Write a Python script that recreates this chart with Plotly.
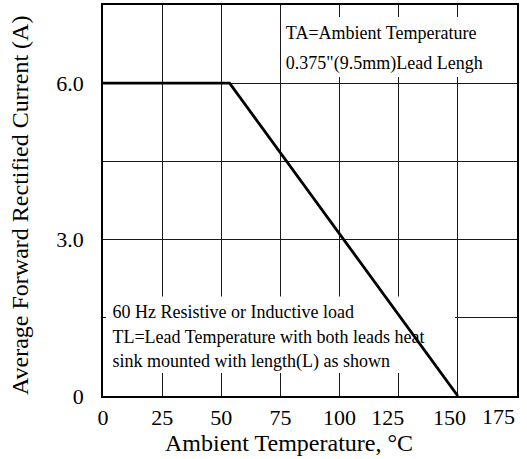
import plotly.graph_objects as go

# Data
temp = [0, 53.5, 150]
current = [6.0, 6.0, 0.0]
x_ticks = [0, 25, 50, 75, 100, 125, 150, 175]
x_tick_labels = ["0", "25", "50", "75", "100", "125", "150", "175"]
y_ticks = [0, 1.5, 3.0, 4.5, 6.0, 7.5]
y_tick_labels = ["0", "", "3.0", "", "6.0", ""]

note_top = ["TA=Ambient Temperature", "0.375\"(9.5mm)Lead Lengh"]
note_top_y = [6.94, 6.35]
note_bot = ["60 Hz Resistive or Inductive load",
            "TL=Lead Temperature with both leads heat",
            "sink mounted with length(L) as shown"]
note_bot_y = [1.59, 1.11, 0.65]

FONT = "Liberation Serif, Times New Roman, serif"

# trailing no-break spaces nudge the crowded right-hand labels leftwards, as in the original;
# the last label is right-aligned to the frame with an annotation instead
pad = [0, 0, 0, 0, 0, 4, 3]
x_text = [lbl + "\u00a0" * p for lbl, p in zip(x_tick_labels[:-1], pad)] + [""]

fig = go.Figure()

# white boxes behind notes (between gridlines and traces)
fig.add_shape(type="rect", x0=76.5, x1=172, y0=6.12, y1=7.27, xref="x", yref="y",
              fillcolor="white", line_width=0, layer="between")
fig.add_shape(type="rect", x0=1.3, x1=148.8, y0=0.44, y1=1.91, xref="x", yref="y",
              fillcolor="white", line_width=0, layer="between")

fig.add_trace(go.Scatter(x=[77.3] * len(note_top), y=note_top_y, mode="text", text=note_top,
                         textposition="middle right", textfont=dict(family=FONT, size=18, color="black"),
                         hoverinfo="skip", showlegend=False))
fig.add_trace(go.Scatter(x=[4.0] * len(note_bot), y=note_bot_y, mode="text", text=note_bot,
                         textposition="middle right", textfont=dict(family=FONT, size=18, color="black"),
                         hoverinfo="skip", showlegend=False))

fig.add_trace(go.Scatter(x=temp, y=current, mode="lines",
                         line=dict(color="black", width=2.8), showlegend=False))

fig.update_xaxes(range=[0, 175], tickvals=x_ticks, ticktext=x_text, tickangle=0, automargin=False,
                 showgrid=True, gridcolor="#1a1a1a", gridwidth=1.3,
                 showline=True, linecolor="black", linewidth=1.5, mirror=True,
                 ticks="", zeroline=False, ticklabelstandoff=1,
                 tickfont=dict(family=FONT, size=22, color="black"))
fig.update_yaxes(range=[0, 7.5], tickvals=y_ticks, ticktext=y_tick_labels, automargin=False,
                 showgrid=True, gridcolor="#1a1a1a", gridwidth=1.3,
                 showline=True, linecolor="black", linewidth=1.5, mirror=True,
                 ticks="", zeroline=False, ticklabelstandoff=13,
                 tickfont=dict(family=FONT, size=22, color="black"))

fig.add_annotation(text=x_tick_labels[-1], x=x_ticks[-1], xref="x", yref="paper",
                   y=(396 - 417) / 391, xanchor="right", yanchor="middle", showarrow=False,
                   font=dict(family=FONT, size=22, color="black"))
fig.add_annotation(text="Average Forward Rectified Current (A)", xref="paper", yref="paper",
                   x=(20 - 103) / 414, y=(396 - 206) / 391, xanchor="center", yanchor="middle",
                   textangle=-90, showarrow=False,
                   font=dict(family=FONT, size=24, color="black"))
fig.add_annotation(text="Ambient Temperature, °C", xref="paper", yref="paper",
                   x=(289 - 103) / 414, y=(396 - 443) / 391, xanchor="center", yanchor="middle",
                   showarrow=False,
                   font=dict(family=FONT, size=24, color="black"))

fig.update_layout(width=527, height=459, margin=dict(l=103, r=10, t=5, b=63, autoexpand=False),
                  plot_bgcolor="white", paper_bgcolor="white",
                  font=dict(family=FONT, color="black"))

fig.write_html("out.html", config={"displayModeBar": False},
               post_script="document.body.style.margin='0';")
